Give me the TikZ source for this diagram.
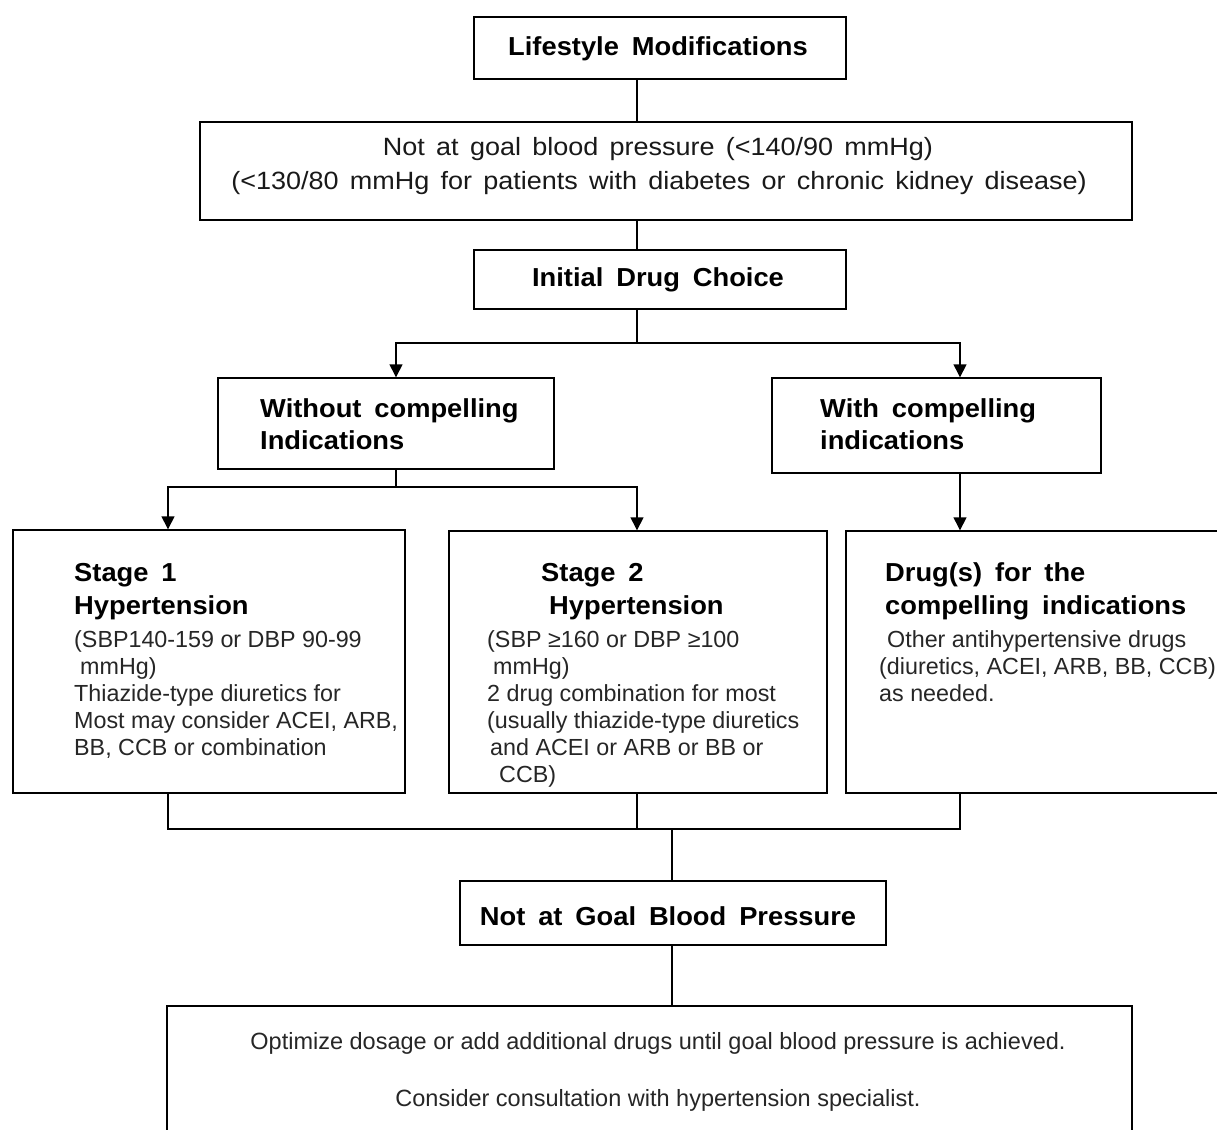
\documentclass[tikz,border=0pt]{standalone}
\usepackage{fontspec}
\setmainfont{Liberation Sans}
\newfontfamily\headfont[WordSpace=1.7,FakeStretch=1.05]{Liberation Sans}
\newfontfamily\goalfont[WordSpace=1.5,FakeStretch=1.08]{Liberation Sans}
\newfontfamily\narrowfont{Liberation Sans}
\usetikzlibrary{arrows.meta,calc}
\begin{document}
\begin{tikzpicture}[x=1pt,y=-1pt,
  box/.style={draw=black, line width=1.4pt, inner sep=0pt},
  ln/.style={draw=black, line width=1.4pt},
  arr/.style={ln, -{Triangle[width=13pt,length=13pt]}},
  hd/.style={inner sep=0pt, font=\headfont\bfseries\fontsize{26}{32}\selectfont},
  bd/.style={inner sep=0pt, text=black!85, font=\fontsize{23.3}{27}\selectfont},
  gl/.style={inner sep=0pt, text=black!90, font=\goalfont\fontsize{25}{34}\selectfont},
  nr/.style={inner sep=0pt, text=black!85, font=\narrowfont\fontsize{23.5}{30}\selectfont}]
\useasboundingbox (0,0) rectangle (1217,1129);
\fill[white] (0,0) rectangle (1217,1129);
% boxes
\node[box, minimum width=372, minimum height=62] (life) at (660,48) {};
\node[box, minimum width=932, minimum height=98] (goal) at (666,171) {};
\node[box, minimum width=372, minimum height=59] (init) at (660,279.5) {};
\node[box, minimum width=336, minimum height=91] (without) at (386,423.5) {};
\node[box, minimum width=329, minimum height=95] (with) at (936.5,425.5) {};
\node[box, minimum width=392, minimum height=263] (s1) at (209,661.5) {};
\node[box, minimum width=378, minimum height=262] (s2) at (638,662) {};
\node[box, minimum width=380, minimum height=262] (drugs) at (1036,662) {};
\node[box, minimum width=426, minimum height=64] (notgoal) at (673,913) {};
\node[box, minimum width=965, minimum height=135] (final) at (649.5,1073.5) {};
% texts
\node[hd, anchor=base] (tlife) at (658,56) {Lifestyle Modifications};
\node[gl, anchor=base] (tg1) at (658,155) {Not at goal blood pressure (<140/90 mmHg)};
\node[gl, anchor=base] (tg2) at (659,189) {(<130/80 mmHg for patients with diabetes or chronic kidney disease)};
\node[hd, anchor=base] (tinit) at (658,286) {Initial Drug Choice};
\node[hd, anchor=base west] (tw1) at (260,417) {Without compelling};
\node[hd, anchor=base west] (tw2) at (260,449) {Indications};
\node[hd, anchor=base west] (tc1) at (820,417) {With compelling};
\node[hd, anchor=base west] (tc2) at (820,449) {indications};
% stage 1
\node[hd, anchor=base west] (s1a) at (74,581) {Stage 1};
\node[hd, anchor=base west] (s1b) at (74,614) {Hypertension};
\node[bd, anchor=base west] (s1c) at (74,647) {(SBP140-159 or DBP 90-99};
\node[bd, anchor=base west] (s1d) at (80,674) {mmHg)};
\node[bd, anchor=base west] (s1e) at (74,701) {Thiazide-type diuretics for};
\node[bd, anchor=base west] (s1f) at (74,728) {Most may consider ACEI, ARB,};
\node[bd, anchor=base west] (s1g) at (74,755) {BB, CCB or combination};
% stage 2
\node[hd, anchor=base west] (s2a) at (541,581) {Stage 2};
\node[hd, anchor=base west] (s2b) at (549,614) {Hypertension};
\node[bd, anchor=base west] (s2c) at (487,647) {(SBP ≥160 or DBP ≥100};
\node[bd, anchor=base west] (s2d) at (493,674) {mmHg)};
\node[bd, anchor=base west] (s2e) at (487,701) {2 drug combination for most};
\node[bd, anchor=base west] (s2f) at (487,728) {(usually thiazide-type diuretics};
\node[bd, anchor=base west] (s2g) at (490,755) {and ACEI or ARB or BB or};
\node[bd, anchor=base west] (s2h) at (499,782) {CCB)};
% drugs
\node[hd, anchor=base west] (d1) at (885,581) {Drug(s) for the};
\node[hd, anchor=base west] (d2) at (885,614) {compelling indications};
\node[bd, anchor=base west] (d3) at (887,647) {Other antihypertensive drugs};
\node[bd, anchor=base west] (d4) at (879,674) {(diuretics, ACEI, ARB, BB, CCB)};
\node[bd, anchor=base west] (d5) at (879,701) {as needed.};
% bottom
\node[hd, anchor=base] (tng) at (668,925) {Not at Goal Blood Pressure};
\node[nr, anchor=base] (f1) at (658,1049) {Optimize dosage or add additional drugs until goal blood pressure is achieved.};
\node[nr, anchor=base] (f2) at (658,1106) {Consider consultation with hypertension specialist.};
% connector coordinates
\coordinate (spine) at (637,0);
\coordinate (aw) at (396,0);
\coordinate (ac) at (960,0);
\coordinate (as) at (168,0);
\coordinate (br1) at (637,343);
\coordinate (br2) at (396,487);
\coordinate (br3) at (672,829);
% connectors
\draw[ln] (spine |- life.south) -- (spine |- goal.north);
\draw[ln] (spine |- goal.south) -- (spine |- init.north);
\draw[ln] (spine |- init.south) -- (br1);
\draw[arr] (br1) -| (aw |- without.north);
\draw[arr] (br1) -| (ac |- with.north);
\draw[ln] (aw |- without.south) -- (br2);
\draw[arr] (br2) -| (as |- s1.north);
\draw[arr] (br2) -| (spine |- s2.north);
\draw[arr] (ac |- with.south) -- (ac |- drugs.north);
\draw[ln] (as |- s1.south) -- (as |- br3) -- (ac |- br3) -- (ac |- drugs.south);
\draw[ln] (spine |- s2.south) -- (spine |- br3);
\draw[ln] (br3) -- (br3 |- notgoal.north);
\draw[ln] (br3 |- notgoal.south) -- (br3 |- final.north);
\end{tikzpicture}
\end{document}
